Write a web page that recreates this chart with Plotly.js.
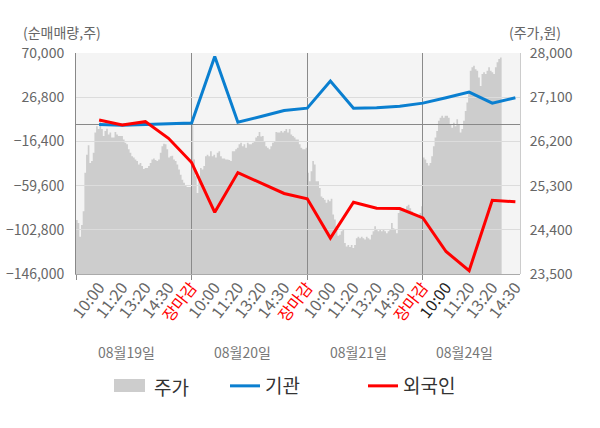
<!DOCTYPE html>
<html>
<head>
<meta charset="utf-8">
<script src="https://cdn.plot.ly/plotly-3.0.1.min.js"></script>
<style>
  html, body { margin:0; padding:0; background:#fff; }
  #chart { width:600px; height:428px; }
</style>
</head>
<body>
<div id="chart"></div>
<script>
// --- data ---
const days = ['08월19일', '08월20일', '08월21일', '08월24일'];
const slotTimes = ['10:00', '11:20', '13:20', '14:30', '장마감'];

// net buying (shares) per time slot, 19 slots
const institution = [0, -500, 0, 1000, 1500, 66500, 2300, 8000, 13700, 16100,
                     42600, 16100, 16400, 18000, 21000, 26200, 31800, 21000, 26200];
const foreign = [4500, -400, 2900, -13400, -37100, -85700, -46900, -57500, -67300, -72500,
                 -110900, -75800, -81700, -82000, -91200, -124000, -142700, -73900, -75400];

// intraday price (won), sampled evenly through each day
const priceDay1 = [24600, 24540, 24260, 24500, 24780, 25560, 25930, 26120, 25760, 25800,
  25970, 26380, 26510, 26450, 26620, 26450, 26310, 26410, 26460, 26340,
  26380, 26280, 26280, 26390, 26340, 26310, 26310, 26310, 26240, 26170,
  26140, 26040, 25970, 25900, 25870, 25830, 25800, 25730, 25760, 25700,
  25640, 25660, 25660, 25700, 25760, 25830, 25850, 25820, 25800, 25830,
  25970, 26100, 26150, 26140, 26040, 25870, 25900, 25910, 25830, 25800,
  25730, 25630, 25520, 25420, 25360, 25300, 25270, 25270, 25270];
const priceDay2 = [26530, 25830, 25490, 25150, 25490, 25660, 25630, 25700, 25900, 25930,
  25900, 26000, 25900, 25930, 25870, 25970, 26000, 25900, 25850, 25850,
  25830, 25830, 25820, 25800, 26000, 26000, 26040, 26070, 26140, 26170,
  26100, 26140, 26070, 26170, 26140, 26140, 26170, 26210, 26280, 26310,
  26390, 26300, 26310, 26210, 26100, 26070, 26040, 26100, 26170, 26210,
  26390, 26380, 26380, 26410, 26380, 26410, 26450, 26380, 26450, 26340,
  26310, 26280, 26240, 26240, 26140, 26070, 26040, 26040, 26070];
const priceDay3 = [25560, 25390, 25590, 25800, 25730, 25390, 25390, 25250, 25080, 25050,
  25010, 24950, 25010, 24980, 25030, 24710, 24610, 24470, 24280, 24300,
  24370, 24400, 24130, 24060, 24090, 24050, 24090, 24030, 24090, 24230,
  24260, 24230, 24260, 24230, 24200, 24260, 24230, 24200, 24300, 24370,
  24470, 24400, 24370, 24400, 24370, 24400, 24370, 24330, 24370, 24400,
  24540, 24430, 24400, 24330, 24740, 24810, 24840, 24840, 24810, 24880,
  24910, 24840, 24780, 24740, 24710, 24670, 24690, 24740, 24880, 25010];
const priceDay4 = [25870, 25830, 25760, 25710, 25760, 25900, 26100, 26280, 26410, 26620,
  26680, 26720, 26680, 26720, 26720, 26680, 26550, 26480, 26580, 26510,
  26650, 26550, 26380, 26450, 26620, 26820, 26990, 27200, 27640, 27710,
  27740, 27670, 27640, 27500, 27330, 27570, 27610, 27570, 27640, 27710,
  27640, 27610, 27570, 27710, 27810, 27880, 27910, 27880];

const leftTicks = [-146000, -102800, -59600, -16400, 26800, 70000];
const rightTicks = [23500, 24400, 25300, 26200, 27100, 28000];

// --- derived axes ---
const SLOTS_PER_DAY = slotTimes.length;
const STEP = SLOTS_PER_DAY / 69;            // one price sample in slot units
const X_MAX = 19.2;

const slotX = [], slotText = [];
days.forEach((d, di) => {
  slotTimes.forEach((t, ti) => {
    const n = di * SLOTS_PER_DAY + ti + 1;
    if (n > institution.length) return;
    slotX.push(n);
    let txt = t;
    if (t === '장마감') txt = '<span style="color:#ff0000">' + t + '</span>';
    else if (di === days.length - 1 && ti === 0) txt = '<span style="color:#222">' + t + '</span>';
    slotText.push(txt);
  });
});

const priceX = [], priceY = [];
[priceDay1, priceDay2, priceDay3, priceDay4].forEach((arr, di) => {
  arr.forEach((v, i) => {
    priceX.push(di * SLOTS_PER_DAY + i * STEP);
    priceY.push(v);
  });
});

const dayStarts = days.map((d, i) => i * SLOTS_PER_DAY);
const dayCenters = days.map((d, i) => {
  const a = i * SLOTS_PER_DAY, b = Math.min(a + SLOTS_PER_DAY, X_MAX);
  return (a + b) / 2 - 0.3;
});

const FONT = '"Noto Sans CJK KR", "Noto Sans", sans-serif';
const PRICE_GRAY = '#cdcdcd';

const data = [
  { // price area, lower subplot
    x: priceX, y: priceY, xaxis:'x', yaxis:'y',
    type:'scatter', mode:'lines', line:{ width:0, shape:'hv', color:PRICE_GRAY },
    fill:'tozeroy', fillcolor:PRICE_GRAY,
    showlegend:false, hoverinfo:'skip'
  },
  {
    x: slotX, y: institution, xaxis:'x2', yaxis:'y2',
    type:'scatter', mode:'lines', name:'기관',
    line:{ color:'#0a7fd0', width:3 }, legend:'legend'
  },
  {
    x: slotX, y: foreign, xaxis:'x2', yaxis:'y2',
    type:'scatter', mode:'lines', name:'외국인',
    line:{ color:'#ff0000', width:3 }, legend:'legend2'
  }
];

const legendBase = {
  xref:'container', yref:'container', y: 1 - 386/428, yanchor:'middle', xanchor:'left',
  orientation:'h', font:{ family:FONT, size:19, color:'#333' }, bgcolor:'rgba(0,0,0,0)'
};

// paper-coordinate helpers for the hand-made price legend swatch
const PL = 76, PW = 444, PB = 274, PH = 221;
const px2paperX = p => (p - PL) / PW;
const px2paperY = p => (PB - p) / PH;

const annotations = days.map((d, i) => ({
  text: d, x: dayCenters[i], xref:'x2', y: px2paperY(352), yref:'paper',
  showarrow:false, yanchor:'middle', font:{ family:FONT, size:14, color:'#777' }
}));
annotations.push({
  text:'(순매매량,주)', xref:'paper', yref:'paper', x:px2paperX(21), y:px2paperY(32),
  xanchor:'left', yanchor:'middle', showarrow:false, font:{ family:FONT, size:14, color:'#666' }
});
annotations.push({
  text:'(주가,원)', xref:'paper', yref:'paper', x:px2paperX(563), y:px2paperY(32),
  xanchor:'right', yanchor:'middle', showarrow:false, font:{ family:FONT, size:14, color:'#666' }
});
annotations.push({
  text:'주가', xref:'paper', yref:'paper', x:px2paperX(152), y:px2paperY(386),
  xanchor:'left', yanchor:'middle', showarrow:false, font:{ family:FONT, size:19, color:'#333' }
});

const shapes = [
  { // plot background, under both subplots
    type:'rect', xref:'paper', yref:'paper', x0:0, x1:1, y0:0, y1:1,
    fillcolor:'#f4f4f4', line:{ width:0 }, layer:'below'
  },
  { // price legend swatch
    type:'rect', xref:'paper', yref:'paper',
    x0:px2paperX(114), x1:px2paperX(145), y0:px2paperY(392), y1:px2paperY(379),
    fillcolor:PRICE_GRAY, line:{ width:0 }
  }
];

const layout = {
  width:600, height:428,
  margin:{ l:PL, r:600 - PL - PW, t:PB - PH, b:428 - PB },
  paper_bgcolor:'#fff', plot_bgcolor:'rgba(0,0,0,0)',
  font:{ family:FONT, color:'#666' },
  xaxis:{
    anchor:'y', range:[0, X_MAX], tickmode:'array', tickvals:slotX, ticktext:slotText,
    tickangle:-52, tickfont:{ size:16, color:'#666' }, ticks:'', showgrid:false,
    showline:false, zeroline:false
  },
  yaxis:{
    anchor:'x', side:'right', range:[23500, 28000], tickmode:'array', tickvals:rightTicks,
    tickformat:',', tickfont:{ size:14, color:'#666' }, showgrid:false, zeroline:false,
    showline:true, linecolor:'#cccccc', ticks:'', ticklabelstandoff:6
  },
  xaxis2:{
    anchor:'y2', range:[0, X_MAX], tickmode:'array', tickvals:dayStarts,
    showticklabels:false, ticks:'outside', ticklen:5, tickcolor:'#8a8a8a',
    showgrid:true, gridcolor:'#8a8a8a', gridwidth:1, zeroline:false,
    showline:true, linecolor:'#aaaaaa'
  },
  yaxis2:{
    anchor:'x2', side:'left', range:[-146000, 70000], tickmode:'array', tickvals:leftTicks,
    tickformat:',', tickfont:{ size:14, color:'#666' }, showgrid:true, gridcolor:'#dcdcdc',
    zeroline:true, zerolinecolor:'#888', zerolinewidth:1,
    showline:true, linecolor:'#888', ticks:'', ticklabelstandoff:8
  },
  legend: Object.assign({}, legendBase, { x:225/600 }),
  legend2: Object.assign({}, legendBase, { x:363/600 }),
  annotations: annotations,
  shapes: shapes,
  hovermode:false
};

Plotly.newPlot('chart', data, layout, { displayModeBar:false, staticPlot:true });
</script>
</body>
</html>
